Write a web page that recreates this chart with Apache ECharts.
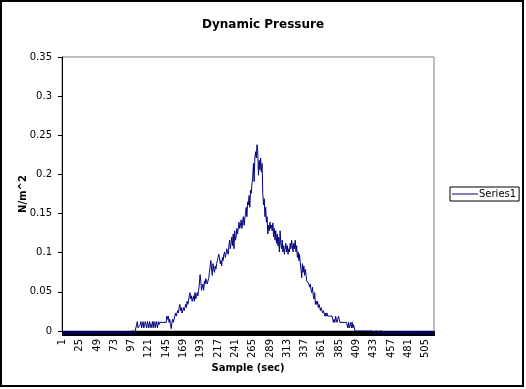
<!DOCTYPE html>
<html>
<head>
<meta charset="utf-8">
<script src="https://cdn.jsdelivr.net/npm/echarts@6/dist/echarts.min.js"></script>
<style>
html,body{margin:0;padding:0;background:#fff;}
#chart{width:526px;height:389px;}
</style>
</head>
<body>
<div id="chart"></div>
<script>
// ---- Data ----
const titleText = "Dynamic Pressure";
const xAxisName = "Sample (sec)";
const yAxisName = "N/m^2";
const seriesName = "Series1";
const sampleCount = 516;
const categories = Array.from({length: sampleCount}, (_, k) => String(k + 1));

// samples 1-104: baseline
const baselineStart = [
0,-0.004,0,-0.004,0,0,-0.004,0,-0.004,0,
0,-0.004,0,0,-0.004,0,-0.004,0,0,-0.004,
0,-0.004,0,0,0,-0.004,0,-0.004,0,0,
-0.004,0,-0.004,0,0,-0.004,0,0,-0.004,0,
-0.004,0,0,-0.004,0,-0.004,0,0,0,-0.004,
0,0,-0.004,0,-0.004,0,0,-0.004,0,0,
-0.004,0,-0.004,0,0,-0.004,0,0,-0.004,0,
0,-0.004,0,0,-0.004,0,-0.004,0,0,-0.004,
0,0,-0.004,0,0,-0.004,0,0,0,-0.004,
0,0,-0.004,0,0,-0.004,0,0,0,0,
-0.004,0,0,0
];
// samples 105-135
const onsetValues = [
0.012,0.004,0.004,0.004,0.008,0.012,0.004,0.008,0.012,0.004,
0.008,0.012,0.008,0.004,0.012,0.008,0.004,0.012,0.012,0.004,
0.008,0.012,0.004,0.012,0.008,0.004,0.012,0.008,0.004,0.012,
0.008
];
// samples 136-231
const riseValues = [
0.011,0.011,0.011,0.011,0.011,0.011,0.011,0.011,0.011,0.011,
0.019,0.015,0.019,0.011,0.015,0.008,0.003,0.011,0.015,0.011,
0.015,0.019,0.023,0.019,0.023,0.026,0.023,0.03,0.034,0.026,
0.03,0.023,0.026,0.03,0.026,0.03,0.034,0.03,0.038,0.034,
0.038,0.045,0.049,0.041,0.045,0.038,0.041,0.045,0.038,0.049,
0.041,0.045,0.049,0.045,0.052,0.06,0.072,0.064,0.052,0.056,
0.06,0.052,0.064,0.06,0.067,0.064,0.06,0.064,0.067,0.075,
0.083,0.09,0.079,0.071,0.086,0.079,0.075,0.083,0.079,0.086,
0.09,0.094,0.098,0.094,0.086,0.09,0.083,0.094,0.09,0.098,
0.101,0.094,0.098,0.105,0.101,0.098
];
// samples 232-330
const peakValues = [
0.109,0.116,0.105,0.112,0.12,0.109,0.124,0.105,0.128,0.116,
0.12,0.131,0.124,0.131,0.139,0.131,0.135,0.142,0.131,0.139,
0.146,0.135,0.143,0.15,0.158,0.146,0.165,0.161,0.173,0.158,
0.18,0.176,0.188,0.195,0.214,0.191,0.221,0.229,0.221,0.238,
0.229,0.199,0.218,0.206,0.221,0.203,0.214,0.176,0.161,0.169,
0.146,0.158,0.139,0.146,0.124,0.135,0.128,0.139,0.131,0.135,
0.128,0.138,0.12,0.131,0.116,0.128,0.112,0.124,0.109,0.12,
0.101,0.128,0.112,0.105,0.116,0.101,0.109,0.098,0.105,0.112,
0.101,0.109,0.098,0.105,0.101,0.112,0.105,0.116,0.109,0.101,
0.112,0.105,0.116,0.101,0.109,0.094,0.101,0.09,0.098
];
// samples 331-430
const decayValues = [
0.087,0.079,0.068,0.086,0.075,0.083,0.071,0.079,0.072,0.064,
0.064,0.064,0.06,0.056,0.06,0.052,0.049,0.056,0.045,0.041,
0.049,0.034,0.038,0.034,0.038,0.03,0.034,0.03,0.026,0.03,
0.026,0.023,0.026,0.023,0.019,0.023,0.019,0.023,0.019,0.019,
0.019,0.019,0.019,0.019,0.019,0.015,0.011,0.015,0.011,0.019,
0.015,0.011,0.015,0.019,0.015,0.011,0.011,0.011,0.011,0.011,
0.011,0.011,0.011,0.011,0.011,0.011,0.004,0.011,0.004,0.008,
0.011,0.004,0.011,0.004,0.008,0.004,0,0,0,0,
0,0,0,0,0,0,0,0,0,0,
0,0,0,0,0,0,0,0,0,0
];
// samples 431-516
const baselineEnd = [
0,0,0,-0.004,0,0,0,0,0,-0.004,
0,0,0,0,-0.004,0,0,0,-0.004,0,
0,0,-0.004,0,0,-0.004,0,0,0,-0.004,
0,0,-0.004,0,0,-0.004,0,0,-0.004,0,
0,-0.004,0,0,-0.004,0,-0.004,0,0,-0.004,
0,0,-0.004,0,-0.004,0,0,-0.004,0,-0.004,
0,0,-0.004,0,-0.004,0,0,-0.004,0,-0.004,
0,-0.004,0,0,-0.004,0,-0.004,0,0,-0.004,
0,-0.004,0,0,-0.004,0
];
const series1 = [].concat(baselineStart, onsetValues, riseValues, peakValues, decayValues, baselineEnd);

const yMin = 0, yMax = 0.35, yStep = 0.05;

const chart = echarts.init(document.getElementById('chart'), null, {renderer: 'canvas'});
const font = '"DejaVu Sans", "Liberation Sans", sans-serif';
chart.setOption({
  animation: false,
  backgroundColor: '#ffffff',
  title: {
    text: titleText,
    left: 'center',
    top: 14,
    textStyle: {fontFamily: font, fontSize: 12, fontWeight: 'bold', color: '#000'}
  },
  legend: {
    data: [seriesName],
    orient: 'vertical',
    left: 450,
    top: 187,
    borderColor: '#000',
    borderWidth: 1,
    borderRadius: 0,
    padding: [2, 3, 2, 2],
    icon: 'rect',
    itemWidth: 26,
    itemHeight: 1,
    itemGap: 0,
    textStyle: {fontFamily: font, fontSize: 10, color: '#000', padding: [0,0,0,-4]}
  },
  graphic: [{
    type: 'rect',
    shape: {x: 1, y: 1, width: 522, height: 385},
    style: {fill: null, stroke: '#000', lineWidth: 2},
    silent: true
  }],
  grid: {
    left: 62, top: 57, width: 372, height: 274,
    show: true, borderColor: '#808080', borderWidth: 1, backgroundColor: '#fff'
  },
  xAxis: {
    type: 'category',
    data: categories,
    boundaryGap: true,
    name: xAxisName,
    nameLocation: 'middle',
    nameGap: 32,
    nameMoveOverlap: false,
    nameTextStyle: {fontFamily: font, fontSize: 10, fontWeight: 'bold', color: '#000'},
    axisLine: {lineStyle: {color: '#000', width: 1}},
    axisTick: {show: true, interval: 0, length: 5, lineStyle: {color: '#000', width: 1}},
    axisLabel: {interval: 23, rotate: 90, fontFamily: font, fontSize: 10, color: '#000', margin: 8},
    splitLine: {show: false}
  },
  yAxis: {
    type: 'value',
    min: yMin, max: yMax, interval: yStep,
    name: yAxisName,
    nameLocation: 'middle',
    nameGap: 34,
    nameMoveOverlap: false,
    nameRotate: 90,
    nameTextStyle: {fontFamily: font, fontSize: 10, fontWeight: 'bold', color: '#000'},
    axisLine: {show: true, lineStyle: {color: '#000', width: 1}},
    axisTick: {show: true, length: 4, lineStyle: {color: '#000'}},
    axisLabel: {fontFamily: font, fontSize: 10, color: '#000', margin: 10},
    splitLine: {show: false}
  },
  series: [{
    name: seriesName,
    type: 'line',
    data: series1,
    symbol: 'none',
    showSymbol: false,
    clip: false,
    sampling: null,
    lineStyle: {color: '#000080', width: 1},
    itemStyle: {color: '#000080'},
    z: 5
  }]
});
</script>
</body>
</html>
